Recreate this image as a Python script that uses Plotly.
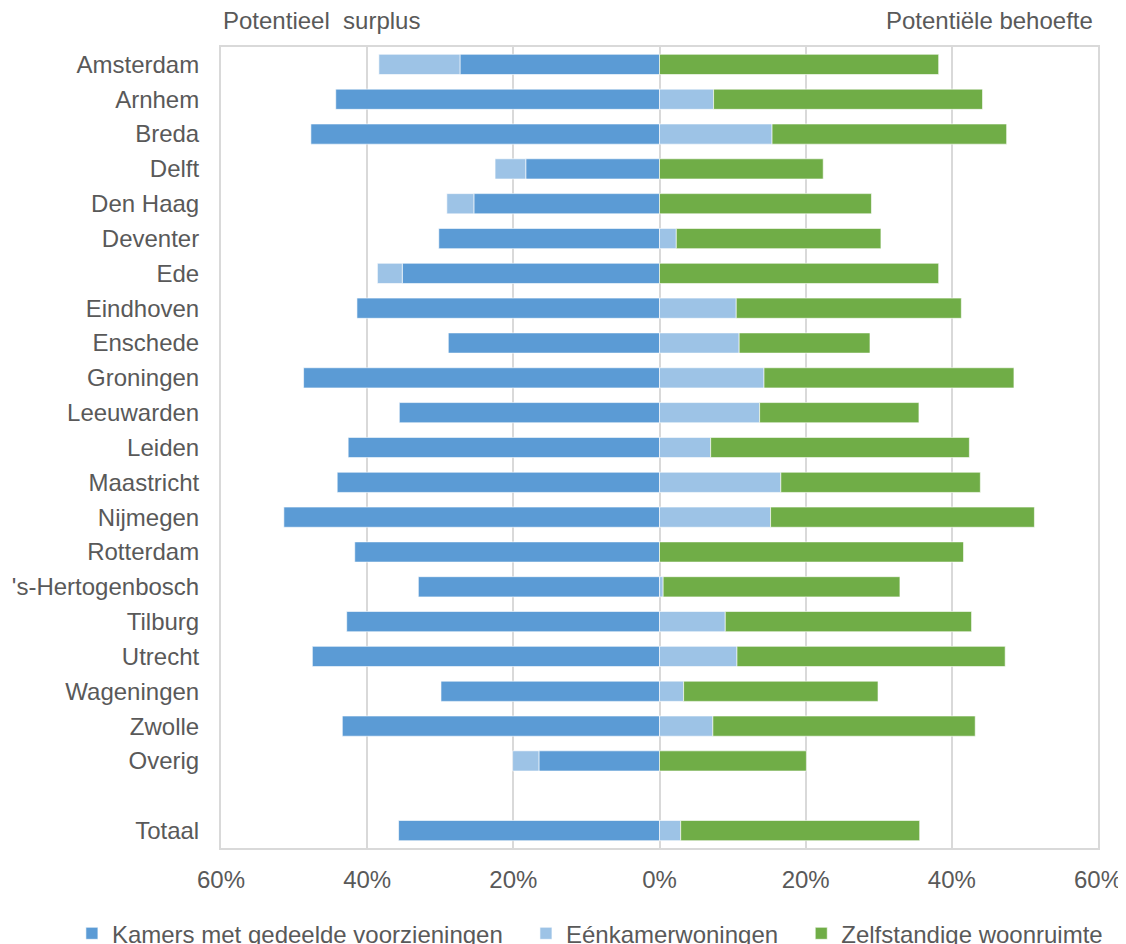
import plotly.graph_objects as go

cities = ["Amsterdam", "Arnhem", "Breda", "Delft", "Den Haag", "Deventer", "Ede",
          "Eindhoven", "Enschede", "Groningen", "Leeuwarden", "Leiden", "Maastricht",
          "Nijmegen", "Rotterdam", "'s-Hertogenbosch", "Tilburg", "Utrecht",
          "Wageningen", "Zwolle", "Overig", "Totaal"]
# row positions (a blank row before Totaal)
rows = list(range(21)) + [22]

# values in % (negative = potentieel surplus, positive = potentiele behoefte)
kamers = [-27.3, -44.3, -47.7, -18.3, -25.4, -30.2, -35.2, -41.4, -28.9, -48.7, -35.6,
          -42.6, -44.1, -51.4, -41.7, -33.0, -42.8, -47.5, -29.9, -43.4, -16.5, -35.7]
eenkamer = [-11.1, 7.4, 15.4, -4.2, -3.7, 2.3, -3.4, 10.5, 10.9, 14.3, 13.7,
            7.0, 16.6, 15.2, 0.0, 0.5, 9.0, 10.6, 3.3, 7.3, -3.6, 2.9]
zelfstandig = [38.2, 36.8, 32.1, 22.4, 29.0, 28.0, 38.2, 30.8, 17.9, 34.2, 21.8,
               35.4, 27.3, 36.1, 41.6, 32.4, 33.7, 36.7, 26.6, 35.9, 20.1, 32.7]

x_ticks = [-60, -40, -20, 0, 20, 40, 60]
x_labels = ["60%", "40%", "20%", "0%", "20%", "40%", "60%"]

series_names = ["Kamers met gedeelde voorzieningen", "Eénkamerwoningen",
                "Zelfstandige woonruimte"]
series_values = [kamers, eenkamer, zelfstandig]
series_colors = ["#5B9BD5", "#9DC3E6", "#70AD47"]

FONT = "Arial, 'Liberation Sans', sans-serif"
TXT = "#595959"
GRID = "#D9D9D9"
PAD = "\u00a0\u00a0\u2009"  # extra spacing between legend entries

fig = go.Figure()
for i, (name, vals, col) in enumerate(zip(series_names, series_values, series_colors)):
    fig.add_trace(go.Bar(
        y=rows, x=vals, name=name + (PAD if i < 2 else ""), orientation="h", width=0.58,
        marker=dict(color=col, line=dict(color="rgba(255,255,255,0.6)", width=1)),
    ))

fig.update_layout(
    width=1118, height=936,
    barmode="relative",
    paper_bgcolor="white", plot_bgcolor="white",
    margin=dict(l=213, r=28, t=39, b=96, autoexpand=False),
    font=dict(family=FONT, size=24, color=TXT),
    showlegend=True,
    legend=dict(
        orientation="h", xref="paper", yref="paper",
        x=-0.170, xanchor="left", y=-0.107, yanchor="middle",
        font=dict(size=24, color=TXT), traceorder="normal",
        bgcolor="rgba(0,0,0,0)", tracegroupgap=0,
    ),
    xaxis=dict(
        range=[-60, 60], tickvals=x_ticks, ticktext=x_labels,
        showgrid=True, gridcolor=GRID, gridwidth=2,
        zeroline=True, zerolinecolor=GRID, zerolinewidth=2,
        showline=True, linecolor=GRID, linewidth=2, mirror=True,
        ticks="", ticklabelstandoff=9, automargin=False,
        tickfont=dict(size=24, color=TXT),
    ),
    yaxis=dict(
        range=[22.5, -0.5], tickvals=rows, ticktext=cities,
        showgrid=False, zeroline=False,
        showline=True, linecolor=GRID, linewidth=2, mirror=True,
        ticks="", ticklabelstandoff=15, automargin=False,
        tickfont=dict(size=24, color=TXT),
    ),
    annotations=[
        dict(text="Potentieel\u00a0 surplus", xref="paper", yref="paper",
             x=0, y=1, xanchor="left", yanchor="bottom", yshift=11,
             showarrow=False, font=dict(size=24, color=TXT)),
        dict(text="Potentiële behoefte", xref="paper", yref="paper",
             x=0.9966, y=1, xanchor="right", yanchor="bottom", yshift=11,
             showarrow=False, font=dict(size=24, color=TXT)),
    ],
)

fig.write_html("out.html")
